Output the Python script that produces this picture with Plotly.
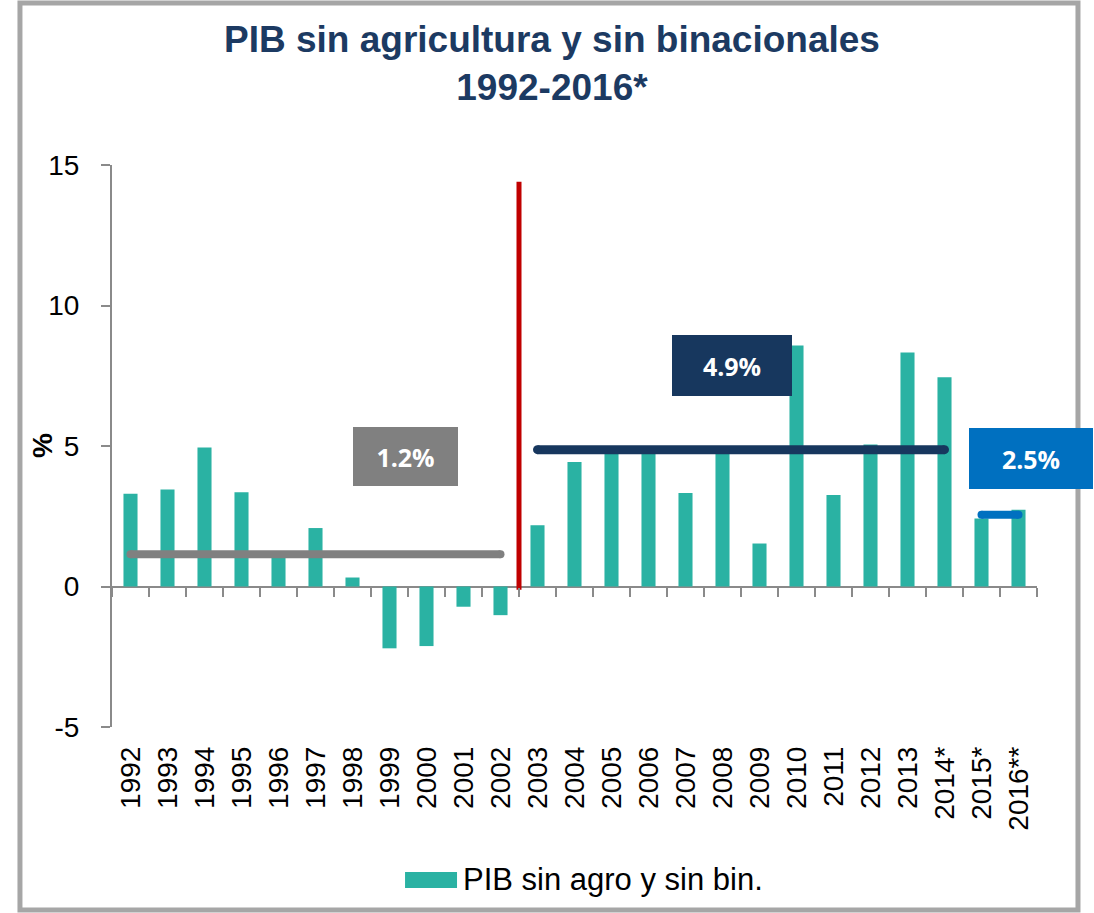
import plotly.graph_objects as go

# ---------------- data ----------------
years = ["1992", "1993", "1994", "1995", "1996", "1997", "1998", "1999", "2000",
         "2001", "2002", "2003", "2004", "2005", "2006", "2007", "2008", "2009",
         "2010", "2011", "2012", "2013", "2014*", "2015*", "2016**"]
pib_values = [3.3, 3.45, 4.95, 3.35, 1.05, 2.08, 0.32, -2.2, -2.12,
              -0.72, -1.02, 2.18, 4.43, 4.8, 4.85, 3.33, 4.82, 1.53,
              8.58, 3.26, 5.05, 8.33, 7.45, 2.42, 2.73]

# period averages: (first index, last index, drawn level, label)
avg_start = [0, 11, 23]
avg_end = [10, 22, 24]
avg_level = [1.15, 4.87, 2.55]
avg_label = ["1.2%", "4.9%", "2.5%"]
avg_colors = ["#808080", "#17375E", "#0070C0"]
avg_widths = [8, 9, 8]
# label box centres (category index, value) and sizes
box_x = [7.43, 16.27, 24.34]
box_y = [4.63, 7.88, 4.54]
box_w = [105, 120, 124]
box_h = [59, 61, 61]

break_x = [10.5, 10.5]
break_y = [-0.12, 14.4]

y_ticks = [-5, 0, 5, 10, 15]
y_ticktext = ["-5", "0", "5", "10", "15"]

BAR = "#2AB2A3"
AXIS = "#8A8A8A"
FONT = "Liberation Sans, Arial, sans-serif"

idx = list(range(len(years)))

fig = go.Figure()
fig.add_trace(go.Bar(x=idx, y=pib_values, marker=dict(color=BAR, line=dict(width=0)),
                     width=0.38, showlegend=False, name="PIB sin agro y sin bin."))

for s, e, lv, c, lw in zip(avg_start, avg_end, avg_level, avg_colors, avg_widths):
    fig.add_trace(go.Scatter(x=[s, e], y=[lv, lv], mode="lines+markers",
                             line=dict(color=c, width=lw),
                             marker=dict(color=c, size=lw),
                             showlegend=False, hoverinfo="skip"))

fig.add_trace(go.Scatter(x=break_x, y=break_y, mode="lines", xaxis="x2",
                         line=dict(color="#C00000", width=5),
                         showlegend=False, hoverinfo="skip"))

annotations = []
for bx, by, w, h, t, c in zip(box_x, box_y, box_w, box_h, avg_label, avg_colors):
    annotations.append(dict(x=bx, y=by, xref="x", yref="y", text="<b>%s</b>" % t,
                            showarrow=False, bgcolor=c, width=w, height=h,
                            borderpad=0, borderwidth=0, align="center", valign="middle",
                            font=dict(family="Open Sans, Noto Sans, sans-serif",
                                      size=25, color="white")))

# title
annotations.append(dict(x=0.4757, y=1.1806, xref="paper", yref="paper",
                        text="<b>PIB sin agricultura y sin binacionales<br>1992-2016*</b>",
                        showarrow=False, xanchor="center", yanchor="middle",
                        font=dict(family=FONT, size=37, color="#1C3A62")))
# y axis title
annotations.append(dict(x=-0.0746, y=0.5018, xref="paper", yref="paper",
                        text="<b>%</b>", textangle=-90, showarrow=False,
                        xanchor="center", yanchor="middle",
                        font=dict(family=FONT, size=28, color="black")))
# legend text
annotations.append(dict(x=0.3773, y=-0.2722, xref="paper", yref="paper",
                        text="PIB sin agro y sin bin.", showarrow=False,
                        xanchor="left", yanchor="middle",
                        font=dict(family=FONT, size=31, color="black")))

shapes = [
    # outer frame
    dict(type="rect", xref="paper", yref="paper", x0=-0.0995, x1=1.0443,
         y0=-0.3256, y1=1.2883, line=dict(color="#A6A6A6", width=5),
         fillcolor="rgba(0,0,0,0)", layer="below"),
    # legend swatch
    dict(type="rect", xref="paper", yref="paper", x0=0.3168, x1=0.373,
         y0=-0.2865, y1=-0.258, line=dict(width=0), fillcolor=BAR),
]

fig.update_layout(
    width=1094, height=913,
    margin=dict(l=112, r=57, t=165, b=186, autoexpand=False),
    paper_bgcolor="white", plot_bgcolor="white",
    font=dict(family=FONT, color="black"),
    showlegend=False,
    annotations=annotations, shapes=shapes,
    xaxis=dict(range=[-0.5, 24.5], tickmode="array", tickvals=idx, ticktext=years,
               tickangle=-90, ticks="", showline=False, showgrid=False, zeroline=False,
               tickfont=dict(size=28, color="black"), ticklabelstandoff=13),
    xaxis2=dict(range=[-0.5, 24.5], overlaying="x", anchor="free", position=0.25,
                side="bottom", tickmode="array",
                tickvals=[i - 0.5 for i in range(len(years) + 1)],
                ticks="outside", ticklen=9, tickwidth=2, tickcolor=AXIS,
                showticklabels=False, showline=False, showgrid=False, zeroline=False),
    yaxis=dict(range=[-5, 15], tickmode="array", tickvals=y_ticks, ticktext=y_ticktext,
               ticks="outside", ticklen=9, tickwidth=2, tickcolor=AXIS,
               showline=True, linecolor=AXIS, linewidth=2, showgrid=False,
               zeroline=True, zerolinecolor=AXIS, zerolinewidth=2,
               tickfont=dict(size=28, color="black"), ticklabelstandoff=16),
    bargap=0.62,
)

fig.write_html("out.html", config={"displayModeBar": False},
               post_script="document.body.style.margin='0';document.body.style.overflow='hidden';")
